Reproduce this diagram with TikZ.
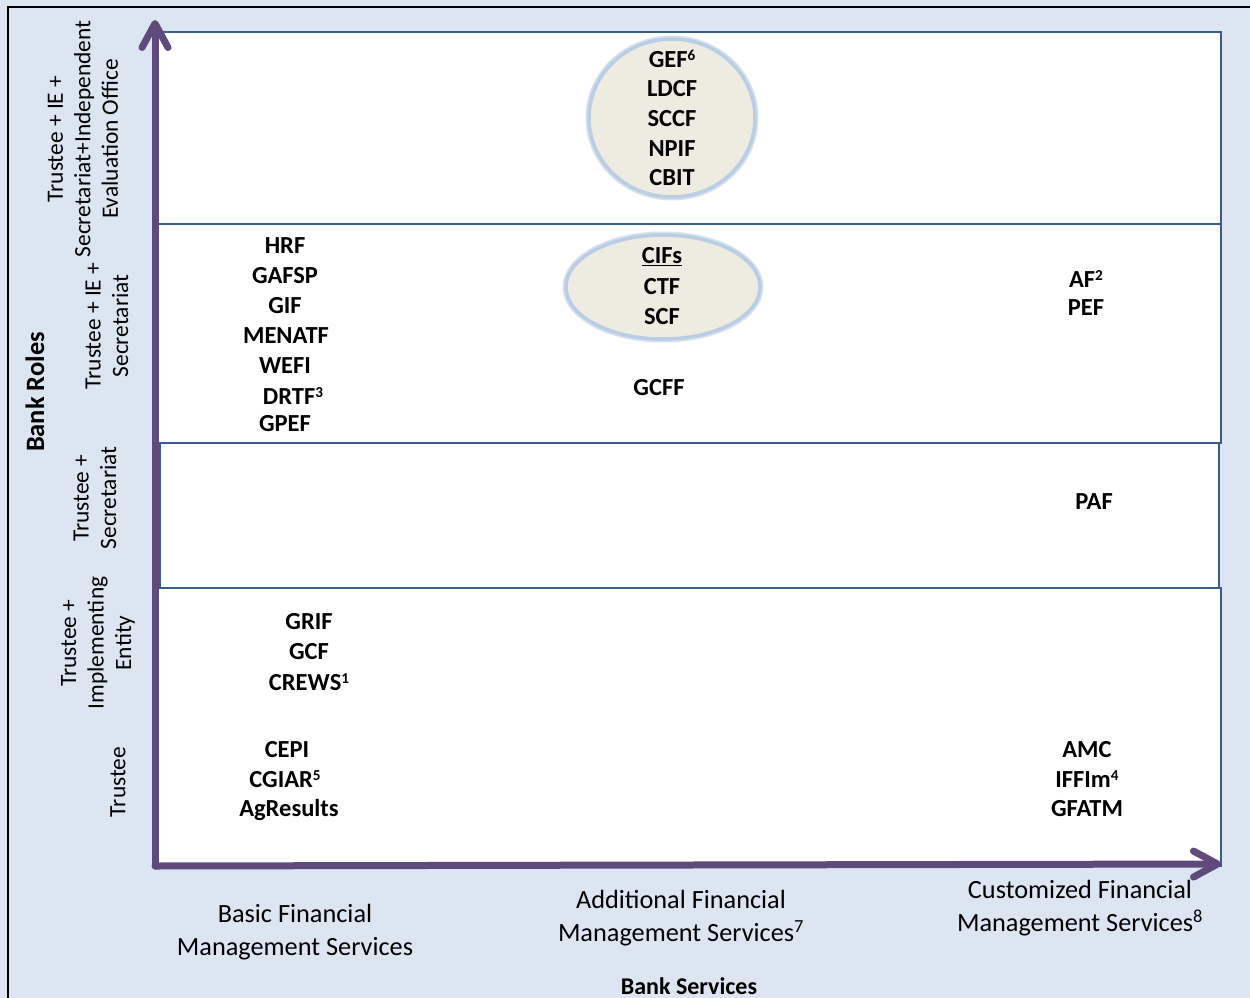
\documentclass[tikz,border=0pt]{standalone}
\usepackage{fontspec}
\setmainfont{Carlito}
\usetikzlibrary{arrows.meta,shapes.geometric}
\definecolor{bgblue}{HTML}{DCE6F2}
\definecolor{panelline}{HTML}{385D8A}
\definecolor{axispurple}{HTML}{604A7B}
\definecolor{ovalfill}{HTML}{EEECE1}
\definecolor{ovalline}{HTML}{B9CDE5}
\definecolor{ovalglow}{HTML}{D5E1EF}
% footnote marks set small and level with the capitals
\newcommand{\fnmark}[1]{\raisebox{0.26em}{\fontsize{0.62em}{0.62em}\selectfont #1}}
\begin{document}
\begin{tikzpicture}[x=1pt,y=-1pt,
  panel/.style={draw=panelline,line width=1.4pt,fill=white},
  oval/.style={ellipse,draw=ovalline,line width=3.5pt,fill=ovalfill,inner sep=0pt,
    preaction={draw=ovalglow,line width=7pt}},
  fund/.style={font=\fontsize{24.5}{28}\selectfont\bfseries,inner sep=0pt},
  rolelabel/.style={rotate=90,align=center,font=\fontsize{23.4}{27.5}\selectfont,inner sep=0pt},
  servicelabel/.style={align=center,font=\fontsize{26.3}{33}\selectfont,inner sep=0pt},
  axistitle/.style={font=\fontsize{24}{28}\selectfont\bfseries,inner sep=0pt},
  axis/.style={draw=axispurple,line width=7pt,line cap=round,
    -{Straight Barb[length=24pt,width=26pt,line cap=round,line join=round]}}]
\useasboundingbox (0,0) rectangle (1250,998);
% background and frame
\fill[bgblue] (0,0) rectangle (1250,998);
\draw[black,line width=2pt] (8,998) -- (8,7) -- (1250,7);

% role bands
\draw[panel] (158,32) rectangle (1221,224);
\draw[panel] (158,224) rectangle (1221,443);
\draw[panel] (158,588) rectangle (1221,866);
\draw[panel] (160,443) rectangle (1219,588);

% axes
\coordinate (O) at (155,866);
\coordinate (ytop) at (155,20);
\coordinate (xend) at (1221,864);
\draw[axis] (O) -- (ytop);
\draw[axis] (O) -- (xend);

% ovals
\node[oval,minimum width=166,minimum height=158] (gefoval) at (672,118) {};
\node[oval,minimum width=194,minimum height=104] (cifoval) at (663,287) {};

% top band
\node[fund] (gef) at (672,59) {GEF\fnmark{6}};
\node[fund] (ldcf) at (672,89) {LDCF};
\node[fund] (sccf) at (672,119) {SCCF};
\node[fund] (npif) at (672,149) {NPIF};
\node[fund] (cbit) at (672,178) {CBIT};

% second band
\node[fund] (hrf) at (285,246) {HRF};
\node[fund] (gafsp) at (285,276) {GAFSP};
\node[fund] (gif) at (285,306) {GIF};
\node[fund] (menatf) at (286,336) {MENATF};
\node[fund] (wefi) at (285,366) {WEFI};
\node[fund] (drtf) at (293,396) {DRTF\fnmark{3}};
\node[fund] (gpef) at (285,424) {GPEF};
\node[fund] (cifs) at (662,257) {\underline{CIFs}};
\node[fund] (ctf) at (662,287) {CTF};
\node[fund] (scf) at (662,317) {SCF};
\node[fund] (gcff) at (659,388) {GCFF};
\node[fund] (af) at (1086,279) {AF\fnmark{2}};
\node[fund] (pef) at (1086,308) {PEF};

% third band
\node[fund] (paf) at (1094,502) {PAF};

% fourth band
\node[fund] (grif) at (309,622) {GRIF};
\node[fund] (gcf) at (309,652) {GCF};
\node[fund] (crews) at (309,682) {CREWS\fnmark{1}};

% fifth band
\node[fund] (cepi) at (287,750) {CEPI};
\node[fund] (cgiar) at (285,779) {CGIAR\fnmark{5}};
\node[fund] (agres) at (289,810) {AgResults};
\node[fund] (amc) at (1087,750) {AMC};
\node[fund] (iffim) at (1087,779) {IFFIm\fnmark{4}};
\node[fund] (gfatm) at (1087,809) {GFATM};

% role labels
\node[axistitle,rotate=90,font=\fontsize{26.5}{30}\selectfont\bfseries] (bankroles) at (35,392) {Bank Roles};
\node[rolelabel] (r1) at (83,139) {Trustee + IE +\\Secretariat+Independent\\Evaluation Office};
\node[rolelabel] (r2) at (107,326) {Trustee + IE +\\Secretariat};
\node[rolelabel] (r3) at (95,498) {Trustee +\\Secretariat};
\node[rolelabel] (r4) at (98,643) {Trustee +\\Implementing\\Entity};
\node[rolelabel] (r5) at (118,782) {Trustee};

% service labels
\node[servicelabel] (s1) at (295,932) {Basic Financial\\Management Services};
\node[servicelabel] (s2) at (681,918) {Additional Financial\\Management Services\textsuperscript{7}};
\node[servicelabel] (s3) at (1080,908) {Customized Financial\\Management Services\textsuperscript{8}};
\node[axistitle] (bankservices) at (689,986) {Bank Services};
\end{tikzpicture}
\end{document}
